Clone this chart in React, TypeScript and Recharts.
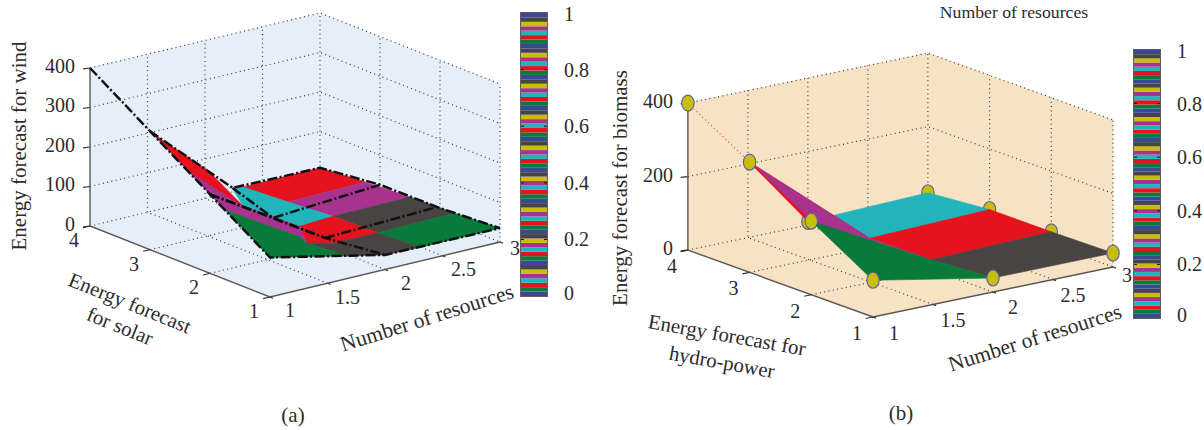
import React from 'react';
import { Bar, BarChart, ReferenceLine, Scatter, ScatterChart, XAxis, YAxis } from 'recharts';

const WIDTH = 1204;
const HEIGHT = 430;
const SERIF = '"Liberation Serif", serif';
const INK = '#2e2b2b';

const RED = '#e5131d';
const MAGENTA = '#a8338e';
const TEAL = '#21b4bb';
const GRAY = '#494444';
const GREEN = '#087a39';
const NAVY = '#3a4795';
const YELLOW = '#c8bd08';

// axis ticks
const resourceTicks = [1, 1.5, 2, 2.5, 3];
const forecastTicks = [1, 2, 3, 4];
const windTicks = [0, 100, 200, 300, 400];
const biomassTicks = [0, 200, 400];
const colorbarTicks = [0, 0.2, 0.4, 0.6, 0.8, 1];

// (b) biomass surface, rows are forecast 1..4, columns resources 1, 2, 3
const biomassResources = [1, 2, 3];
const biomassForecast = [1, 2, 3, 4];
const biomassRow1 = [100, 38, 38];
const biomassRow2 = [200, 27, 35];
const biomassRow3 = [300, 25, 35];
const biomassRow4 = [400, 10, 20];
const biomassRows = [biomassRow1, biomassRow2, biomassRow3, biomassRow4];

type P3 = number[];

// (a) wind surface facets as [resources, solar forecast, wind], back to front
const windFacets: { color: string; pts: P3[] }[] = [
  { color: RED, pts: [[2.33, 4, 6], [3, 4, 8], [3, 3.25, 17], [2.33, 3.25, 13]] },
  { color: MAGENTA, pts: [[2.33, 3.25, 13], [3, 3.25, 17], [3, 2.5, 24], [2.33, 2.5, 22]] },
  { color: GRAY, pts: [[2.33, 2.5, 22], [3, 2.5, 24], [3, 1.75, 28], [2.33, 1.75, 25]] },
  { color: GREEN, pts: [[2.33, 1.75, 25], [3, 1.75, 28], [3, 1, 35], [2.3, 1, 35]] },
  { color: TEAL, pts: [[2.235, 4, 10], [2.33, 4, 6], [2.33, 3.25, 13], [2.33, 2.5, 22], [1.78, 2, 65], [1.81, 3, 54]] },
  { color: RED, pts: [[2.33, 2.5, 22], [2.33, 1.75, 25], [1.81, 1.5, 50], [1.71, 1.75, 42], [1.78, 2, 65]] },
  { color: GRAY, pts: [[1.71, 1.75, 42], [1.81, 1.5, 50], [2.33, 1.75, 25], [2.3, 1, 35], [2, 1, 37], [1.67, 1, 57]] },
  { color: MAGENTA, pts: [[1, 3, 300], [1, 1.75, 175], [1.65, 1.75, 62], [1.71, 1.75, 42], [1.78, 2, 65], [1.81, 3, 54]] },
  { color: RED, pts: [[1, 2.92, 295], [1.5, 3, 167], [1.81, 3, 54], [1.35, 3, 172]] },
  { color: GREEN, pts: [[1, 1.75, 175], [1.65, 1.75, 62], [1.71, 1.75, 42], [1.67, 1, 57], [1, 1, 100]] },
];

// (a) black dash-dot mesh lines
const windLines: P3[][] = [
  [[1, 4, 400], [1, 3, 300], [1, 2, 200], [1, 1, 100], [2, 1, 37], [3, 1, 35]],
  [[1, 3, 300], [2.24, 4, 10], [3, 4, 8], [3, 3, 25], [3, 2, 26], [3, 1, 35]],
  [[2.24, 4, 10], [2.07, 3, 6], [2, 2, 20]],
  [[1, 2, 200], [2.07, 3, 6], [3, 3, 25]],
  [[1, 2, 200], [2, 2, 20], [2, 1, 37]],
  [[2, 2, 20], [2.94, 2, 30]],
];

const colorbarCycle = [NAVY, GREEN, RED, TEAL, MAGENTA, YELLOW, GRAY];
const colorbarSteps = 64;
const colorbarKeys = Array.from({ length: colorbarSteps }, (_, i) => `s${i}`);
const colorbarRow: Record<string, number> = {};
colorbarKeys.forEach((k) => {
  colorbarRow[k] = 1 / colorbarSteps;
});

type View = {
  ox: number;
  oy: number;
  xu: number[];
  yu: number[];
  zu: number;
  zMax: number;
  zTicks: number[];
  wall: string;
};

const viewA: View = { ox: 270, oy: 297, xu: [115, -27.5], yu: [-60, -23.67], zu: 0.395, zMax: 400, zTicks: windTicks, wall: '#e6eefa' };
const viewB: View = { ox: 873, oy: 317, xu: [120, -25], yu: [-61.7, -22.3], zu: 0.3675, zMax: 400, zTicks: biomassTicks, wall: '#f7e2c4' };

const project = (v: View, p: P3) => ({
  x: v.ox + (p[0] - 1) * v.xu[0] + (p[1] - 1) * v.yu[0],
  y: v.oy + (p[0] - 1) * v.xu[1] + (p[1] - 1) * v.yu[1] - p[2] * v.zu,
});

const noDot = () => <g />;

const polygonLine = (color: string) => (props: any) => (
  <polygon
    points={props.points.map((q: any) => `${q.x},${q.y}`).join(' ')}
    fill={color}
    stroke={color}
    strokeWidth={0.6}
  />
);

const facet = (key: string, v: View, pts: P3[], color: string) => (
  <Scatter
    key={key}
    data={pts.map((p) => project(v, p))}
    shape={noDot}
    line={polygonLine(color)}
    isAnimationActive={false}
    legendType="none"
  />
);

const path = (key: string, v: View, pts: P3[], style: any) => (
  <Scatter
    key={key}
    data={pts.map((p) => project(v, p))}
    shape={noDot}
    line={style}
    isAnimationActive={false}
    legendType="none"
  />
);

const textShape = (props: any) => {
  const d = props.payload;
  return (
    <text
      x={props.cx}
      y={props.cy}
      fontFamily={SERIF}
      fontSize={d.size ?? 20}
      fill={INK}
      textAnchor={d.anchor ?? 'middle'}
      dominantBaseline="central"
      transform={d.rot ? `rotate(${d.rot} ${props.cx} ${props.cy})` : undefined}
    >
      {d.label}
    </text>
  );
};

const texts = (key: string, data: any[]) => (
  <Scatter key={key} data={data} shape={textShape} isAnimationActive={false} legendType="none" />
);

const DOTTED = { stroke: '#3c3c3c', strokeWidth: 1.2, strokeDasharray: '1 3.4' };
const AXIS = { stroke: '#5a5654', strokeWidth: 1.4 };
const BLACK_DASH = { stroke: '#111', strokeWidth: 2.5, strokeDasharray: '10 2.5 2 2.5' };

// walls, floor, grid, axes and tick labels of one 3-D box
const box = (id: string, v: View, xOff: number[][], yOff: number[], zOff: number[]) => {
  const top = v.zMax;
  const out: React.ReactNode[] = [];
  out.push(facet(`${id}-floor`, v, [[1, 1, 0], [3, 1, 0], [3, 4, 0], [1, 4, 0]], v.wall));
  out.push(facet(`${id}-wall1`, v, [[1, 4, 0], [3, 4, 0], [3, 4, top], [1, 4, top]], v.wall));
  out.push(facet(`${id}-wall2`, v, [[3, 4, 0], [3, 1, 0], [3, 1, top], [3, 4, top]], v.wall));
  resourceTicks.forEach((t) => {
    if (t > 1 && t < 3) {
      out.push(path(`${id}-gx${t}`, v, [[t, 1, 0], [t, 4, 0], [t, 4, top]], DOTTED));
    }
  });
  out.push(path(`${id}-gx3`, v, [[3, 4, 0], [3, 4, top]], DOTTED));
  out.push(path(`${id}-gxr`, v, [[3, 1, 0], [3, 1, top]], DOTTED));
  forecastTicks.forEach((t) => {
    if (t > 1 && t < 4) {
      out.push(path(`${id}-gy${t}`, v, [[1, t, 0], [3, t, 0], [3, t, top]], DOTTED));
    }
  });
  v.zTicks.forEach((t) => {
    out.push(path(`${id}-gz${t}`, v, [[1, 4, t], [3, 4, t], [3, 1, t]], DOTTED));
    out.push(path(`${id}-tz${t}`, v, [[0.95, 4.02, t], [1, 4, t]], { stroke: '#333', strokeWidth: 1.1 }));
  });
  out.push(path(`${id}-ax1`, v, [[1, 4, top], [1, 4, 0], [1, 1, 0], [3, 1, 0]], AXIS));
  forecastTicks.forEach((t) => {
    out.push(path(`${id}-ty${t}`, v, [[0.94, t, 0], [1, t, 0]], { stroke: '#333', strokeWidth: 1.1 }));
  });
  resourceTicks.forEach((t) => {
    out.push(path(`${id}-tx${t}`, v, [[t, 0.95, 0], [t, 1, 0]], { stroke: '#333', strokeWidth: 1.1 }));
  });
  out.push(
    texts(`${id}-zl`, v.zTicks.map((t) => {
      const p = project(v, [1, 4, t]);
      return { x: p.x + zOff[0], y: p.y + zOff[1], label: String(t), anchor: 'end' };
    })),
  );
  out.push(
    texts(`${id}-yl`, forecastTicks.map((t) => {
      const p = project(v, [1, t, 0]);
      return { x: p.x + yOff[0], y: p.y + yOff[1], label: String(t) };
    })),
  );
  out.push(
    texts(`${id}-xl`, resourceTicks.map((t, i) => {
      const p = project(v, [t, 1, 0]);
      return { x: p.x + xOff[i][0], y: p.y + xOff[i][1], label: String(t) };
    })),
  );
  return out;
};

const captions = [
  { x: 19, y: 146, label: 'Energy forecast for wind', rot: -90, size: 21 },
  { x: 130, y: 303, label: 'Energy forecast', rot: 22, size: 20.7 },
  { x: 120, y: 326, label: 'for solar', rot: 22, size: 20.7 },
  { x: 427, y: 318, label: 'Number of resources', rot: -17.5, size: 21.5 },
  { x: 293, y: 415, label: '(a)', size: 21 },
  { x: 620, y: 188, label: 'Energy forecast for biomass', rot: -90, size: 21 },
  { x: 1014, y: 12, label: 'Number of resources', size: 17.7 },
  { x: 727, y: 335, label: 'Energy forecast for', rot: 10, size: 20.7 },
  { x: 722, y: 362, label: 'hydro-power', rot: 10, size: 20.7 },
  { x: 1035, y: 338, label: 'Number of resources', rot: -17.5, size: 21.5 },
  { x: 901, y: 413, label: '(b)', size: 21 },
];

const biomassPt = (i: number, j: number): P3 => [biomassResources[i], biomassForecast[j], biomassRows[j][i]];

// corners as [resource index, forecast index]
const biomassCells = [
  { color: TEAL, corners: [[1, 3], [2, 3], [2, 2], [1, 2]] },
  { color: RED, corners: [[1, 2], [2, 2], [2, 1], [1, 1]] },
  { color: RED, corners: [[1, 3], [1, 2], [0, 2]] },
  { color: MAGENTA, corners: [[0, 2], [1, 2], [1, 1], [0, 1]] },
  { color: GRAY, corners: [[1, 1], [2, 1], [2, 0], [1, 0]] },
  { color: GREEN, corners: [[0, 1], [1, 1], [1, 0], [0, 0]] },
];

const markerBehind: number[][] = [[1, 3], [2, 3], [1, 2], [2, 2], [1, 1], [2, 1]];
const markerFront: number[][] = [[0, 3], [0, 2], [0, 1], [0, 0], [1, 0], [2, 0]];

const markerShape = (props: any) => (
  <ellipse cx={props.cx} cy={props.cy} rx={6.2} ry={8} fill={YELLOW} stroke="#5c5ca8" strokeWidth={1.1} />
);

const markers = (key: string, cells: number[][]) => (
  <Scatter
    key={key}
    data={cells.map(([i, j]) => project(viewB, biomassPt(i, j)))}
    shape={markerShape}
    isAnimationActive={false}
    legendType="none"
  />
);

const colorbarTick = (props: any) => (
  <text
    x={props.x + 9}
    y={props.y + (props.payload.value === 1 ? 1 : props.payload.value === 0 ? -3 : 0)}
    fontFamily={SERIF}
    fontSize={20}
    fill={INK}
    dominantBaseline="central"
  >
    {props.payload.value}
  </text>
);

const Colorbar = ({ left, top, height }: { left: number; top: number; height: number }) => (
  <div style={{ position: 'absolute', left, top: top - 12 }}>
    <BarChart
      width={76}
      height={height + 24}
      data={[colorbarRow]}
      margin={{ top: 12, right: 0, bottom: 12, left: 0 }}
      barCategoryGap={0}
    >
      <XAxis hide />
      <YAxis
        orientation="right"
        type="number"
        domain={[0, 1]}
        ticks={colorbarTicks}
        width={50}
        axisLine={false}
        tickLine={false}
        tick={colorbarTick}
        interval={0}
      />
      {colorbarKeys.map((k, i) => (
        <Bar key={k} dataKey={k} stackId="cb" fill={colorbarCycle[i % colorbarCycle.length]} isAnimationActive={false} />
      ))}
      {colorbarTicks.slice(1, -1).map((t) => (
        <ReferenceLine key={t} y={t} stroke="#111" strokeWidth={1} strokeDasharray="3 20 3" />
      ))}
    </BarChart>
    <div
      style={{
        position: 'absolute',
        left: -1,
        top: 11,
        width: 26,
        height,
        border: '1.5px solid #5f5f5f',
        pointerEvents: 'none',
      }}
    />
  </div>
);

export default function App() {
  return (
    <div style={{ position: 'absolute', left: 0, top: 0, width: WIDTH, height: HEIGHT, background: '#fff' }}>
      <ScatterChart width={WIDTH} height={HEIGHT} margin={{ top: 0, right: 0, bottom: 0, left: 0 }}>
        <XAxis hide type="number" dataKey="x" domain={[0, WIDTH]} allowDataOverflow />
        <YAxis hide type="number" dataKey="y" domain={[0, HEIGHT]} reversed allowDataOverflow />

        {box('a', viewA,
          [[20, 13], [20, 14], [21, 13], [21, 13], [15, 6]],
          [-16, 14],
          [-15, -2])}
        {windFacets.map((f, i) => facet(`wf${i}`, viewA, f.pts, f.color))}
        {windLines.map((l, i) => path(`wl${i}`, viewA, l, BLACK_DASH))}

        {box('b', viewB,
          [[21, 16], [20, 15], [20, 15], [20, 15], [14, 8]],
          [-16, 16],
          [-15, -2])}
        {markers('mb', markerBehind)}
        {biomassCells.map((c, n) =>
          facet(`bf${n}`, viewB, c.corners.map(([i, j]) => biomassPt(i, j)), c.color),
        )}
        {path('bred', viewB, [biomassPt(0, 3), biomassPt(0, 2)], { stroke: '#ee3a3a', strokeWidth: 1.1, strokeDasharray: '1 3' })}
        {path('bred2', viewB, [biomassPt(0, 2), biomassPt(0, 1)], { stroke: RED, strokeWidth: 1.2 })}
        {markers('mf', markerFront)}

        {texts('captions', captions)}
      </ScatterChart>
      <Colorbar left={521} top={13} height={283} />
      <Colorbar left={1134} top={50} height={268} />
    </div>
  );
}
